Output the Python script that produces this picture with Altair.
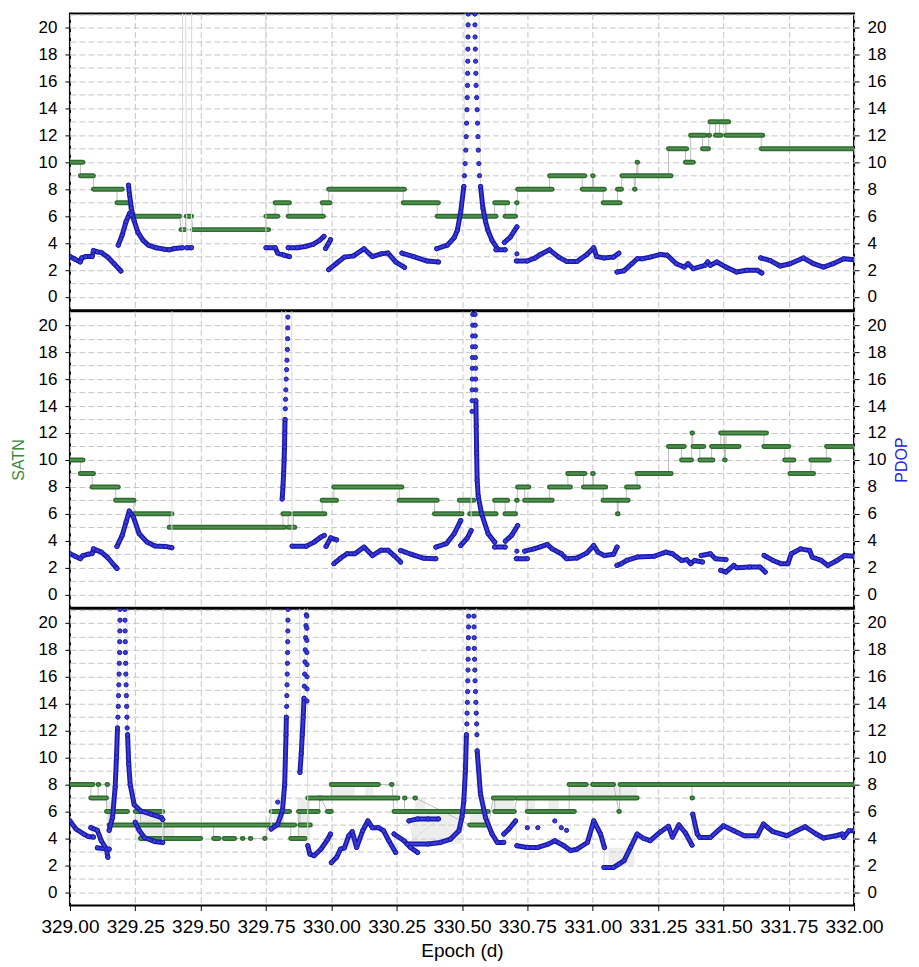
import altair as alt
import pandas as pd

# ---------------- data ----------------
X_TICKS = [329.0, 329.25, 329.5, 329.75, 330.0, 330.25, 330.5, 330.75, 331.0, 331.25, 331.5, 331.75, 332.0]
X_DOMAIN = [329.0, 332.0]
Y_DOMAIN = [-0.98, 21.04]
Y_GRID = list(range(0, 22))
Y_LABELS = list(range(0, 21, 2))
OFF = 60  # PDOP values above the plotted range

# SATN: (start epoch, end epoch, number of satellites)
P1_SATN = [
    (329.00, 329.05, 10), (329.04, 329.09, 9), (329.09, 329.20, 8), (329.18, 329.225, 7),
    (329.225, 329.42, 6), (329.425, 329.44, 5), (329.445, 329.465, 6), (329.47, 329.76, 5),
    (329.75, 329.795, 6), (329.785, 329.84, 7), (329.835, 329.97, 6), (329.965, 329.995, 7),
    (329.99, 330.28, 8), (330.275, 330.41, 7), (330.405, 330.63, 6), (330.625, 330.675, 7),
    (330.665, 330.705, 6), (330.709, 330.711, 7), (330.713, 330.845, 8), (330.835, 330.97, 9),
    (330.96, 330.998, 8), (331.0, 331.002, 9), (331.004, 331.045, 8), (331.04, 331.105, 7),
    (331.095, 331.11, 8), (331.112, 331.158, 9), (331.16, 331.162, 8), (331.164, 331.168, 9),
    (331.17, 331.172, 10), (331.174, 331.30, 9), (331.29, 331.36, 11), (331.355, 331.385, 10),
    (331.375, 331.43, 12), (331.42, 331.443, 11), (331.445, 331.447, 12), (331.449, 331.475, 13),
    (331.47, 331.49, 12), (331.485, 331.52, 13), (331.51, 331.65, 12), (331.645, 332.0, 11),
]
P2_SATN = [
    (329.00, 329.05, 10), (329.04, 329.09, 9), (329.085, 329.185, 8), (329.175, 329.245, 7),
    (329.245, 329.39, 6), (329.38, 329.82, 5), (329.815, 329.84, 6), (329.835, 329.86, 5),
    (329.855, 329.975, 6), (329.965, 330.02, 7), (330.01, 330.27, 8), (330.26, 330.405, 7),
    (330.395, 330.50, 6), (330.49, 330.545, 7), (330.53, 330.63, 6), (330.625, 330.675, 7),
    (330.665, 330.705, 6), (330.709, 330.711, 7), (330.713, 330.755, 8), (330.74, 330.845, 7),
    (330.835, 330.915, 8), (330.905, 330.97, 9), (330.965, 330.998, 8), (331.0, 331.002, 9),
    (331.004, 331.05, 8), (331.04, 331.093, 7), (331.095, 331.097, 6), (331.099, 331.135, 7),
    (331.13, 331.175, 8), (331.17, 331.30, 9), (331.29, 331.35, 11), (331.34, 331.378, 10),
    (331.38, 331.382, 12), (331.384, 331.425, 11), (331.41, 331.46, 10), (331.455, 331.50, 11),
    (331.49, 331.503, 12), (331.505, 331.507, 10), (331.509, 331.56, 11), (331.51, 331.665, 12),
    (331.655, 331.75, 11), (331.735, 331.77, 10), (331.755, 331.845, 9), (331.835, 331.905, 10),
    (331.895, 332.0, 11),
]
P3_SATN = [
    (329.00, 329.088, 8), (329.08, 329.14, 7), (329.108, 329.110, 8), (329.142, 329.144, 8),
    (329.14, 329.22, 6), (329.15, 329.36, 5), (329.25, 329.355, 6), (329.27, 329.50, 4),
    (329.36, 329.81, 5), (329.55, 329.57, 4), (329.59, 329.63, 4), (329.66, 329.662, 4),
    (329.69, 329.692, 4), (329.745, 329.747, 4), (329.77, 329.84, 6), (329.815, 329.86, 5),
    (329.845, 329.90, 4), (329.875, 329.95, 6), (329.88, 329.92, 5), (329.91, 329.96, 7),
    (329.985, 330.0, 6), (329.955, 330.255, 7), (330.00, 330.18, 8), (330.23, 330.232, 8),
    (330.24, 330.60, 6), (330.28, 330.282, 7), (330.32, 330.322, 7), (330.53, 330.60, 5),
    (330.62, 330.70, 7), (330.625, 330.70, 6), (330.71, 331.17, 7), (330.75, 330.93, 6),
    (330.91, 330.975, 8), (331.00, 331.08, 8), (331.10, 331.102, 6), (331.105, 332.0, 8),
    (331.38, 331.382, 7),
]
# dense grey switching regions (start, end, low, high)
P3_BANDS = [
    (329.14, 329.16, 3.0, 6.8), (329.25, 329.36, 3.7, 6.0), (329.36, 329.40, 4.0, 5.0),
    (329.78, 329.80, 4.6, 6.1), (329.87, 329.92, 4.0, 7.0), (330.00, 330.09, 7.0, 8.0),
    (330.13, 330.16, 7.0, 8.0), (330.05, 330.10, 3.3, 4.3), (330.31, 330.50, 3.6, 6.0),
    (330.32, 330.36, 6.0, 7.0), (330.53, 330.60, 5.0, 6.0), (330.62, 330.70, 6.0, 7.0),
    (330.74, 330.78, 6.0, 7.0), (330.83, 330.87, 6.0, 7.0), (330.91, 331.17, 7.0, 8.0),
    (331.06, 331.16, 2.0, 3.3),
]

# PDOP: continuous pieces of (epoch, pdop); OFF = off the top of the plot
P1_PDOP = [
    [(329.00, 3.0), (329.02, 2.8), (329.04, 2.6), (329.045, 2.9), (329.06, 3.0), (329.085, 3.0), (329.09, 3.45),
     (329.105, 3.35), (329.12, 3.3), (329.145, 2.95), (329.17, 2.45), (329.195, 1.93)],
    [(329.185, 3.85), (329.20, 4.6), (329.215, 5.6), (329.228, 6.2), (329.235, 6.1)],
    [(329.224, 8.3), (329.228, 7.6), (329.235, 6.6), (329.245, 5.7), (329.26, 4.8), (329.28, 4.2), (329.30, 3.85),
     (329.33, 3.65), (329.36, 3.55), (329.38, 3.5), (329.40, 3.6), (329.43, 3.65)],
    [(329.433, OFF)],
    [(329.447, 3.65), (329.465, 3.65)],
    [(329.467, OFF), (329.745, OFF)],
    [(329.75, 3.66), (329.785, 3.66), (329.795, 3.25), (329.82, 3.1), (329.84, 3.0)],
    [(329.835, 3.66), (329.87, 3.66), (329.90, 3.75), (329.93, 3.9), (329.955, 4.2), (329.972, 4.5)],
    [(329.978, 3.6), (329.99, 4.0), (329.997, 4.25)],
    [(329.99, 2.03), (330.02, 2.5), (330.05, 2.96), (330.085, 3.05), (330.125, 3.58), (330.157, 3.0), (330.19, 3.2),
     (330.217, 3.26), (330.246, 2.6), (330.28, 2.2)],
    [(330.27, 3.26), (330.315, 3.0), (330.367, 2.67), (330.41, 2.6)],
    [(330.403, 3.58), (330.444, 3.85), (330.47, 4.4), (330.482, 4.94), (330.495, 6.3), (330.507, 8.2)],
    [(330.524, OFF), (330.549, OFF)],
    [(330.571, 8.2), (330.58, 6.6), (330.59, 5.6), (330.60, 4.9), (330.615, 4.2), (330.635, 3.6)],
    [(330.63, 3.5), (330.665, 3.5)],
    [(330.662, 4.05), (330.685, 4.45), (330.71, 5.2)],
    [(330.708, 2.67), (330.75, 2.67), (330.78, 2.9), (330.80, 3.16), (330.835, 3.5), (330.87, 2.96), (330.90, 2.64),
     (330.94, 2.64), (330.978, 3.16), (331.004, 3.66), (331.015, 3.0), (331.042, 2.9), (331.08, 2.96), (331.10, 3.25)],
    [(331.093, 1.85), (331.12, 1.95), (331.15, 2.47), (331.17, 2.84), (331.19, 2.84), (331.22, 2.96), (331.26, 3.16),
     (331.285, 3.1), (331.32, 2.47), (331.35, 2.22), (331.365, 2.47), (331.385, 2.1), (331.43, 2.35), (331.44, 2.6),
     (331.45, 2.35), (331.475, 2.6), (331.51, 2.22), (331.55, 1.85), (331.59, 1.98), (331.63, 1.98), (331.647, 1.78)],
    [(331.643, 2.9), (331.68, 2.7), (331.717, 2.3), (331.755, 2.47), (331.806, 2.9), (331.845, 2.47), (331.883, 2.22),
     (331.92, 2.47), (331.96, 2.84), (332.0, 2.77)],
]
# isolated PDOP samples (spike flanks and single points)
P1_DOTS = [
    (330.5095, 9.0), (330.512, 9.9), (330.5145, 10.9), (330.516, 11.9), (330.5175, 12.9), (330.519, 13.9),
    (330.520, 14.8), (330.521, 15.7), (330.5215, 16.6), (330.522, 17.5), (330.5225, 18.4), (330.523, 19.3),
    (330.5235, 20.2), (330.524, 21.0),
    (330.549, 21.0), (330.5495, 20.2), (330.550, 19.3), (330.551, 18.4), (330.552, 17.5), (330.553, 16.6),
    (330.554, 15.7), (330.556, 14.8), (330.558, 13.9), (330.5595, 12.9), (330.561, 11.9), (330.5625, 10.9),
    (330.5645, 9.9), (330.567, 9.0),
    (330.71, 3.2),
]
P2_PDOP = [
    [(329.00, 3.04), (329.02, 2.85), (329.04, 2.67), (329.05, 2.9), (329.07, 3.0), (329.085, 3.05), (329.09, 3.4),
     (329.12, 3.16), (329.145, 2.74), (329.175, 2.05), (329.18, 1.95)],
    [(329.18, 3.58), (329.20, 4.4), (329.215, 5.4), (329.227, 6.2), (329.243, 5.75), (329.265, 4.52), (329.295, 3.9),
     (329.325, 3.62), (329.365, 3.58), (329.39, 3.48)],
    [(329.392, OFF), (329.808, OFF)],
    [(329.812, 7.1), (329.815, 8.0), (329.8175, 9.0), (329.8195, 10.0), (329.821, 11.0), (329.822, 12.0),
     (329.823, 13.0)],
    [(329.836, OFF), (329.846, OFF)],
    [(329.85, 3.6), (329.905, 3.6), (329.934, 3.9), (329.96, 4.27), (329.973, 4.4)],
    [(329.98, 3.58), (329.998, 4.22), (330.02, 4.07)],
    [(330.01, 2.3), (330.035, 2.7), (330.06, 3.04), (330.09, 3.04), (330.125, 3.53), (330.157, 2.9), (330.19, 3.3),
     (330.217, 3.3), (330.24, 2.9), (330.265, 2.42)],
    [(330.265, 3.28), (330.305, 3.0), (330.355, 2.7), (330.40, 2.67)],
    [(330.40, 3.53), (330.44, 3.78), (330.47, 4.52), (330.495, 5.5)],
    [(330.495, 3.65), (330.52, 4.2), (330.535, 4.76)],
    [(330.541, OFF), (330.550, OFF)],
    [(330.553, 14.4), (330.5545, 12.5), (330.556, 10.5), (330.558, 8.5), (330.562, 7.3), (330.575, 6.0),
     (330.60, 4.52), (330.625, 3.9)],
    [(330.625, 3.53), (330.665, 3.53)],
    [(330.666, 3.97), (330.69, 4.4), (330.713, 5.13)],
    [(330.708, 2.67), (330.75, 2.67)],
    [(330.74, 3.23), (330.775, 3.4), (330.80, 3.55), (330.826, 3.73), (330.845, 3.4), (330.88, 3.04), (330.90, 2.67),
     (330.94, 2.72), (330.978, 3.1), (331.004, 3.65), (331.02, 3.16), (331.045, 2.9), (331.08, 3.0), (331.093, 3.53)],
    [(331.093, 2.17), (331.11, 2.3), (331.13, 2.54), (331.17, 2.79), (331.235, 2.85), (331.28, 3.16), (331.305, 3.04),
     (331.34, 2.54), (331.36, 2.6), (331.375, 2.3), (331.39, 2.54), (331.42, 2.42)],
    [(331.415, 2.91), (331.45, 3.04), (331.47, 2.67), (331.51, 2.6)],
    [(331.49, 1.8), (331.51, 1.68), (331.54, 2.17), (331.55, 2.0), (331.60, 2.05), (331.64, 2.05), (331.66, 1.68)],
    [(331.656, 2.91), (331.69, 2.54), (331.72, 2.3), (331.747, 2.3), (331.76, 3.04), (331.795, 3.4), (331.83, 3.28),
     (331.84, 2.79), (331.875, 2.54), (331.90, 2.17), (331.935, 2.54), (331.965, 2.91), (332.0, 2.85)],
]
P2_DOTS = [
    (329.824, 13.8), (329.825, 14.5), (329.826, 15.2), (329.8275, 16.0), (329.829, 16.7), (329.8305, 17.4),
    (329.832, 18.2), (329.833, 19.0), (329.8335, 19.8), (329.834, 20.6),
    (330.5385, 13.6), (330.5388, 14.4), (330.539, 15.2), (330.5393, 16.0), (330.5396, 16.8), (330.540, 17.6),
    (330.5403, 18.4), (330.5406, 19.2), (330.541, 20.0), (330.5413, 20.8),
    (330.550, 20.8), (330.5505, 20.0), (330.551, 19.2), (330.5513, 18.4), (330.5516, 17.6), (330.552, 16.8),
    (330.5523, 16.0), (330.5527, 15.2),
    (330.71, 3.23),
]
P3_PDOP = [
    [(329.00, 5.3), (329.023, 4.7), (329.055, 4.3), (329.07, 4.15), (329.09, 4.1)],
    [(329.08, 4.8), (329.105, 4.6), (329.12, 3.83), (329.14, 3.2), (329.145, 2.6)],
    [(329.105, 3.3), (329.15, 3.2)],
    [(329.15, 4.6), (329.163, 5.55), (329.173, 7.8), (329.178, 10.0), (329.182, 12.2)],
    [(329.193, OFF), (329.209, OFF)],
    [(329.2205, 11.7), (329.225, 9.5), (329.2305, 8.0), (329.246, 6.5), (329.27, 6.05), (329.31, 5.8),
     (329.35, 5.55), (329.355, 5.4)],
    [(329.25, 5.2), (329.265, 4.6), (329.285, 4.07), (329.323, 3.78), (329.355, 3.7)],
    [(329.36, OFF), (329.765, OFF)],
    [(329.77, 4.7), (329.795, 5.05), (329.813, 6.05), (329.8216, 8.0), (329.8267, 11.7), (329.828, 13.0)],
    [(329.836, OFF), (329.876, OFF)],
    [(329.880, 8.9), (329.885, 10.3), (329.889, 11.7), (329.8925, 13.0), (329.8955, 14.4)],
    [(329.905, OFF)],
    [(329.91, 3.46), (329.918, 2.84), (329.934, 2.72), (329.96, 3.2), (329.985, 3.9), (329.997, 4.33)],
    [(330.00, 2.2), (330.02, 2.6), (330.035, 3.2), (330.05, 3.3), (330.067, 4.2), (330.08, 4.5), (330.097, 3.33),
     (330.12, 4.57), (330.14, 5.3), (330.157, 4.8), (330.18, 4.8), (330.20, 4.57), (330.22, 3.83), (330.246, 2.96)],
    [(330.24, 4.33), (330.278, 3.83), (330.303, 3.33), (330.33, 2.96)],
    [(330.297, 5.3), (330.33, 5.45), (330.37, 5.45), (330.41, 5.45)],
    [(330.29, 3.58), (330.37, 3.58), (330.418, 3.7), (330.456, 3.95), (330.488, 4.57), (330.50, 5.6), (330.507, 6.8),
     (330.513, 9.0), (330.517, 11.7)],
    [(330.527, OFF), (330.544, OFF)],
    [(330.558, 10.5), (330.5707, 7.3), (330.59, 5.55), (330.615, 4.33), (330.635, 3.7), (330.66, 3.7)],
    [(330.66, 4.33), (330.68, 4.7), (330.705, 5.3)],
    [(330.71, 3.46), (330.75, 3.33), (330.79, 3.33), (330.83, 3.58), (330.855, 3.83), (330.89, 3.46),
     (330.915, 3.1), (330.94, 3.2), (330.98, 3.7), (331.004, 5.3), (331.03, 4.33), (331.045, 3.33)],
    [(331.043, 1.85), (331.08, 1.85), (331.10, 2.1), (331.12, 2.35), (331.145, 3.33), (331.17, 4.33),
     (331.195, 4.0), (331.22, 3.83), (331.26, 4.5), (331.29, 4.9), (331.305, 4.1), (331.33, 5.0), (331.355, 4.4),
     (331.38, 3.5)],
    [(331.383, 5.8), (331.40, 4.33), (331.41, 4.07), (331.45, 4.07), (331.50, 4.94), (331.54, 4.57), (331.58, 4.2),
     (331.63, 4.2), (331.653, 5.07), (331.67, 4.8), (331.69, 4.5), (331.743, 4.2), (331.78, 4.57), (331.813, 4.87),
     (331.855, 4.33), (331.883, 4.03), (331.93, 4.2), (331.955, 4.33), (331.96, 4.07), (331.98, 4.57),
     (332.0, 4.57)],
]
P3_DOTS = [
    (329.1835, 13.0), (329.185, 13.8), (329.186, 14.6), (329.187, 15.4), (329.188, 16.2), (329.189, 17.0),
    (329.19, 17.8), (329.1905, 18.6), (329.191, 19.4), (329.1915, 20.2), (329.192, 21.0),
    (329.210, 21.0), (329.2105, 20.2), (329.211, 19.4), (329.2115, 18.6), (329.212, 17.8), (329.213, 17.0),
    (329.214, 16.2), (329.215, 15.4), (329.216, 14.6), (329.217, 13.8), (329.218, 13.0), (329.219, 12.2),
    (329.829, 13.8), (329.8298, 14.6), (329.8306, 15.4), (329.8313, 16.2), (329.832, 17.0), (329.8326, 17.8),
    (329.8332, 18.6), (329.8337, 19.4), (329.834, 20.2), (329.8344, 21.0),
    (329.897, 15.3), (329.898, 16.2), (329.899, 17.1), (329.900, 18.0), (329.9015, 18.9), (329.903, 19.8),
    (329.9045, 20.6), (329.9065, 20.5), (329.9065, 19.6), (329.9065, 18.7), (329.9065, 17.8), (329.907, 16.9),
    (329.907, 16.0), (329.907, 15.1), (329.907, 14.2),
    (330.5185, 12.5), (330.5195, 13.3), (330.5205, 14.1), (330.5215, 14.9), (330.522, 15.7), (330.523, 16.5),
    (330.5235, 17.3), (330.524, 18.1), (330.5245, 18.9), (330.525, 19.7), (330.5255, 20.5),
    (330.5455, 20.5), (330.546, 19.7), (330.5465, 18.9), (330.547, 18.1), (330.548, 17.3), (330.549, 16.5),
    (330.550, 15.7), (330.5515, 14.9), (330.553, 14.1), (330.5545, 13.3), (330.556, 12.5), (330.557, 11.7),
    (329.795, 6.7), (330.75, 4.8), (330.79, 4.8), (330.855, 5.3), (330.88, 4.8), (330.90, 4.6),
]

# ---------------- styling ----------------
FONT = "Liberation Sans"
GRID = "#c6c6c6"
GREEN_DARK = "#2f6b2f"
GREEN_LIGHT = "#4f8f4f"
BLUE_DARK = "#1a1aa8"
BLUE_LIGHT = "#3c3cdc"
CONN = "#bdbdbd"
W, H = 785, 297

xscale = alt.Scale(domain=X_DOMAIN, nice=False, zero=False)
yscale = alt.Scale(domain=Y_DOMAIN, nice=False, zero=False)


def x_axis(bottom):
    if bottom:
        return alt.Axis(values=X_TICKS, format=".2f", grid=True, gridDash=[6, 3], gridColor=GRID,
                        domain=False, ticks=True, tickSize=5, tickColor="black",
                        labelFontSize=19, labelPadding=7, labelFlush=False,
                        title="Epoch (d)", titleFontSize=19, titleFontWeight="normal", titlePadding=5)
    return alt.Axis(values=X_TICKS, grid=True, gridDash=[6, 3], gridColor=GRID, domain=False,
                    ticks=False, labels=False, title=None)


def left_axis(show_title):
    return alt.Axis(values=Y_GRID, grid=True, gridDash=[6, 3], gridColor=GRID, domain=False,
                    labelExpr="datum.value % 2 == 0 ? datum.label : ''",
                    tickColor={"condition": {"test": "datum.value % 2 == 0", "value": "black"},
                               "value": "transparent"},
                    tickSize=5, labelFontSize=17, labelPadding=8,
                    title="SATN", titleColor="#3b8a3b", titleFontSize=16, titleFontWeight="normal",
                    titlePadding=12, titleOpacity=1 if show_title else 0)


def right_axis(show_title):
    return alt.Axis(orient="right", values=Y_LABELS, grid=False, domain=False, tickSize=5,
                    tickColor="black", labelFontSize=17, labelPadding=8,
                    title="PDOP", titleColor="#2222dd", titleFontSize=16, titleFontWeight="normal",
                    titleAngle=270, titlePadding=24, titleOpacity=1 if show_title else 0)


def panel(satn, pdop, dots, bands, bottom, titles):
    X = lambda f: alt.X(f, type="quantitative", scale=xscale, axis=x_axis(bottom))
    YL = lambda f: alt.Y(f, type="quantitative", scale=yscale, axis=left_axis(titles))
    YR = lambda f: alt.Y(f, type="quantitative", scale=yscale, axis=right_axis(titles))

    seg_df = pd.DataFrame(satn, columns=["x0", "x1", "v"])
    sconn = pd.DataFrame([{"xa": min(a[1], b[0]), "xb": b[0], "ya": a[2], "yb": b[2]}
                          for a, b in zip(satn[:-1], satn[1:])])
    rows = []
    for k, piece in enumerate(pdop):
        for j, (x, y) in enumerate(piece):
            rows.append({"piece": k, "ord": j, "x": x, "y": y})
    p_df = pd.DataFrame(rows)
    d_df = pd.concat([p_df[["x", "y"]], pd.DataFrame(dots, columns=["x", "y"])], ignore_index=True)
    pconn = pd.DataFrame([{"xa": p[-1][0], "ya": p[-1][1], "xb": q[0][0], "yb": q[0][1]}
                          for p, q in zip(pdop[:-1], pdop[1:])])

    left = []
    if bands:
        b_df = pd.DataFrame(bands, columns=["x0", "x1", "y0", "y1"])
        left.append(alt.Chart(b_df).mark_rect(color="#d6d6d6", opacity=0.45, clip=True).encode(
            x=X("x0"), x2="x1", y=YL("y0"), y2="y1"))
    left.append(alt.Chart(sconn).mark_rule(color=CONN, strokeWidth=1, clip=True).encode(
        x=X("xa"), x2="xb", y=YL("ya"), y2="yb"))
    left.append(alt.Chart(seg_df).mark_rule(color=GREEN_DARK, strokeWidth=5, strokeCap="round", clip=True).encode(
        x=X("x0"), x2="x1", y=YL("v")))
    left.append(alt.Chart(seg_df).mark_rule(color=GREEN_LIGHT, strokeWidth=2, strokeCap="round", clip=True).encode(
        x=X("x0"), x2="x1", y=YL("v")))

    right = [
        alt.Chart(pconn).mark_rule(color="#dadada", strokeWidth=1, clip=True).encode(
            x=X("xa"), x2="xb", y=YR("ya"), y2="yb"),
        alt.Chart(p_df).mark_line(color=BLUE_DARK, strokeWidth=5, strokeCap="round", strokeJoin="round",
                                  clip=True).encode(
            x=X("x"), y=YR("y"), detail="piece:N", order="ord:Q"),
        alt.Chart(p_df).mark_line(color=BLUE_LIGHT, strokeWidth=2, strokeCap="round", strokeJoin="round",
                                  clip=True).encode(
            x=X("x"), y=YR("y"), detail="piece:N", order="ord:Q"),
        alt.Chart(d_df).mark_point(filled=True, size=18, color=BLUE_LIGHT, stroke=BLUE_DARK, strokeWidth=1,
                                   opacity=1, clip=True).encode(
            x=X("x"), y=YR("y")),
    ]
    return alt.layer(alt.layer(*left), alt.layer(*right)).resolve_scale(y="independent").properties(
        width=W, height=H)


chart = alt.vconcat(
    panel(P1_SATN, P1_PDOP, P1_DOTS, [], False, False),
    panel(P2_SATN, P2_PDOP, P2_DOTS, [], False, True),
    panel(P3_SATN, P3_PDOP, P3_DOTS, P3_BANDS, True, False),
    spacing=-1,
).properties(
    padding={"left": 1, "top": 4, "right": 0, "bottom": 0},
    background="white",
).configure_view(
    stroke="black", strokeWidth=2,
).configure_axis(
    labelFont=FONT, titleFont=FONT, labelColor="black",
)

chart.save("out.html", embed_options={"renderer": "svg", "actions": False})
